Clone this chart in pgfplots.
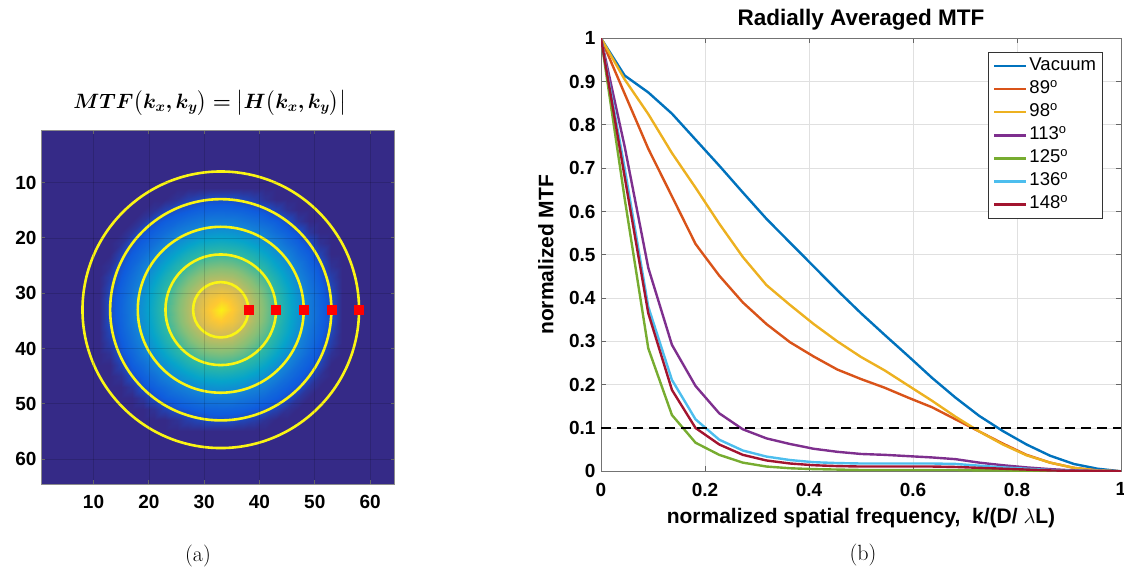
\documentclass[border=0pt]{standalone}
\usepackage{fontspec}
\usepackage{amsmath}
\usepackage{bm}
\usepackage{pgfplots}
\usepackage{pgfplotstable}
\pgfplotsset{compat=1.18}
\newfontfamily\arial{Liberation Sans}
\definecolor{mblue}{rgb}{0,0.447,0.741}
\definecolor{morange}{rgb}{0.85,0.325,0.098}
\definecolor{myellow}{rgb}{0.929,0.694,0.125}
\definecolor{mpurple}{rgb}{0.494,0.184,0.556}
\definecolor{mgreen}{rgb}{0.466,0.674,0.188}
\definecolor{mcyan}{rgb}{0.301,0.745,0.933}
\definecolor{mred}{rgb}{0.635,0.078,0.184}
\definecolor{pbg}{RGB}{53,42,135}
\definecolor{ring}{RGB}{250,245,20}
\newcommand\tickfont{\arial\bfseries\fontsize{19}{21}\selectfont}
\newcommand\labfont{\arial\bfseries\fontsize{21}{24}\selectfont}

\pgfplotstableread{
x vac d89 d98 d113 d125 d136 d148
0 1 1 1 1 1 1 1
0.0455 0.914 0.872 0.905 0.75 0.63 0.70 0.68
0.0909 0.875 0.745 0.825 0.47 0.284 0.38 0.365
0.1364 0.826 0.635 0.735 0.292 0.13 0.211 0.188
0.1818 0.766 0.525 0.655 0.197 0.066 0.12 0.1
0.2273 0.706 0.452 0.572 0.134 0.038 0.073 0.062
0.2727 0.644 0.39 0.495 0.097 0.02 0.048 0.038
0.3182 0.583 0.34 0.43 0.076 0.011 0.034 0.025
0.3636 0.528 0.298 0.384 0.063 0.007 0.026 0.018
0.4091 0.473 0.265 0.34 0.052 0.005 0.021 0.014
0.4545 0.418 0.235 0.30 0.045 0.004 0.019 0.012
0.5 0.365 0.213 0.264 0.040 0.003 0.018 0.011
0.5455 0.315 0.193 0.233 0.038 0.003 0.018 0.011
0.5909 0.266 0.17 0.198 0.035 0.003 0.018 0.011
0.6364 0.216 0.148 0.163 0.032 0.003 0.018 0.011
0.6818 0.17 0.12 0.126 0.028 0.003 0.017 0.010
0.7273 0.128 0.092 0.092 0.020 0.002 0.013 0.008
0.7727 0.093 0.064 0.062 0.014 0.002 0.009 0.006
0.8182 0.062 0.038 0.037 0.009 0.001 0.006 0.004
0.8636 0.036 0.02 0.02 0.005 0.001 0.003 0.002
0.9091 0.017 0.008 0.008 0.002 0 0.001 0.001
0.9545 0.006 0.002 0.002 0.001 0 0.0005 0
1 0 0 0 0 0 0 0
}\mtf

\pgfplotstableread{
x y c
11 11 0
13 11 0
15 11 0
17 11 0
19 11 0
21 11 0
23 11 0
25 11 0
27 11 0
29 11 0
31 11 0
33 11 0
35 11 0
37 11 0
39 11 0
41 11 0
43 11 0
45 11 0
47 11 0
49 11 0
51 11 0
53 11 0
55 11 0
11 13 0
13 13 0
15 13 0
17 13 0
19 13 0
21 13 0
23 13 0
25 13 .02
27 13 .05
29 13 .07
31 13 .09
33 13 .09
35 13 .09
37 13 .07
39 13 .05
41 13 .02
43 13 0
45 13 0
47 13 0
49 13 0
51 13 0
53 13 0
55 13 0
11 15 0
13 15 0
15 15 0
17 15 0
19 15 0
21 15 .02
23 15 .06
25 15 .10
27 15 .12
29 15 .14
31 15 .15
33 15 .155
35 15 .15
37 15 .14
39 15 .12
41 15 .10
43 15 .06
45 15 .02
47 15 0
49 15 0
51 15 0
53 15 0
55 15 0
11 17 0
13 17 0
15 17 0
17 17 0
19 17 .03
21 17 .09
23 17 .13
25 17 .16
27 17 .19
29 17 .21
31 17 .23
33 17 .23
35 17 .23
37 17 .21
39 17 .19
41 17 .16
43 17 .13
45 17 .09
47 17 .03
49 17 0
51 17 0
53 17 0
55 17 0
11 19 0
13 19 0
15 19 0
17 19 .03
19 19 .10
21 19 .14
23 19 .18
25 19 .23
27 19 .26
29 19 .29
31 19 .31
33 19 .32
35 19 .31
37 19 .29
39 19 .26
41 19 .23
43 19 .18
45 19 .14
47 19 .10
49 19 .03
51 19 0
53 19 0
55 19 0
11 21 0
13 21 0
15 21 .02
17 21 .09
19 21 .14
21 21 .19
23 21 .25
25 21 .30
27 21 .35
29 21 .39
31 21 .41
33 21 .42
35 21 .41
37 21 .39
39 21 .35
41 21 .30
43 21 .25
45 21 .19
47 21 .14
49 21 .09
51 21 .02
53 21 0
55 21 0
11 23 0
13 23 0
15 23 .06
17 23 .13
19 23 .18
21 23 .25
23 23 .31
25 23 .38
27 23 .44
29 23 .48
31 23 .51
33 23 .52
35 23 .51
37 23 .48
39 23 .44
41 23 .38
43 23 .31
45 23 .25
47 23 .18
49 23 .13
51 23 .06
53 23 0
55 23 0
11 25 0
13 25 .02
15 25 .10
17 25 .16
19 25 .23
21 25 .30
23 25 .38
25 25 .46
27 25 .52
29 25 .57
31 25 .60
33 25 .61
35 25 .60
37 25 .57
39 25 .52
41 25 .46
43 25 .38
45 25 .30
47 25 .23
49 25 .16
51 25 .10
53 25 .02
55 25 0
11 27 0
13 27 .05
15 27 .12
17 27 .19
19 27 .26
21 27 .35
23 27 .44
25 27 .52
27 27 .59
29 27 .64
31 27 .68
33 27 .69
35 27 .68
37 27 .64
39 27 .59
41 27 .52
43 27 .44
45 27 .35
47 27 .26
49 27 .19
51 27 .12
53 27 .05
55 27 0
11 29 0
13 29 .07
15 29 .14
17 29 .21
19 29 .29
21 29 .39
23 29 .48
25 29 .57
27 29 .64
29 29 .70
31 29 .76
33 29 .78
35 29 .76
37 29 .70
39 29 .64
41 29 .57
43 29 .48
45 29 .39
47 29 .29
49 29 .21
51 29 .14
53 29 .07
55 29 0
11 31 0
13 31 .09
15 31 .15
17 31 .23
19 31 .31
21 31 .41
23 31 .51
25 31 .60
27 31 .68
29 31 .76
31 31 .84
33 31 .88
35 31 .84
37 31 .76
39 31 .68
41 31 .60
43 31 .51
45 31 .41
47 31 .31
49 31 .23
51 31 .15
53 31 .09
55 31 0
11 33 0
13 33 .09
15 33 .155
17 33 .23
19 33 .32
21 33 .42
23 33 .52
25 33 .61
27 33 .69
29 33 .78
31 33 .88
33 33 .97
35 33 .88
37 33 .78
39 33 .69
41 33 .61
43 33 .52
45 33 .42
47 33 .32
49 33 .23
51 33 .155
53 33 .09
55 33 0
11 35 0
13 35 .09
15 35 .15
17 35 .23
19 35 .31
21 35 .41
23 35 .51
25 35 .60
27 35 .68
29 35 .76
31 35 .84
33 35 .88
35 35 .84
37 35 .76
39 35 .68
41 35 .60
43 35 .51
45 35 .41
47 35 .31
49 35 .23
51 35 .15
53 35 .09
55 35 0
11 37 0
13 37 .07
15 37 .14
17 37 .21
19 37 .29
21 37 .39
23 37 .48
25 37 .57
27 37 .64
29 37 .70
31 37 .76
33 37 .78
35 37 .76
37 37 .70
39 37 .64
41 37 .57
43 37 .48
45 37 .39
47 37 .29
49 37 .21
51 37 .14
53 37 .07
55 37 0
11 39 0
13 39 .05
15 39 .12
17 39 .19
19 39 .26
21 39 .35
23 39 .44
25 39 .52
27 39 .59
29 39 .64
31 39 .68
33 39 .69
35 39 .68
37 39 .64
39 39 .59
41 39 .52
43 39 .44
45 39 .35
47 39 .26
49 39 .19
51 39 .12
53 39 .05
55 39 0
11 41 0
13 41 .02
15 41 .10
17 41 .16
19 41 .23
21 41 .30
23 41 .38
25 41 .46
27 41 .52
29 41 .57
31 41 .60
33 41 .61
35 41 .60
37 41 .57
39 41 .52
41 41 .46
43 41 .38
45 41 .30
47 41 .23
49 41 .16
51 41 .10
53 41 .02
55 41 0
11 43 0
13 43 0
15 43 .06
17 43 .13
19 43 .18
21 43 .25
23 43 .31
25 43 .38
27 43 .44
29 43 .48
31 43 .51
33 43 .52
35 43 .51
37 43 .48
39 43 .44
41 43 .38
43 43 .31
45 43 .25
47 43 .18
49 43 .13
51 43 .06
53 43 0
55 43 0
11 45 0
13 45 0
15 45 .02
17 45 .09
19 45 .14
21 45 .19
23 45 .25
25 45 .30
27 45 .35
29 45 .39
31 45 .41
33 45 .42
35 45 .41
37 45 .39
39 45 .35
41 45 .30
43 45 .25
45 45 .19
47 45 .14
49 45 .09
51 45 .02
53 45 0
55 45 0
11 47 0
13 47 0
15 47 0
17 47 .03
19 47 .10
21 47 .14
23 47 .18
25 47 .23
27 47 .26
29 47 .29
31 47 .31
33 47 .32
35 47 .31
37 47 .29
39 47 .26
41 47 .23
43 47 .18
45 47 .14
47 47 .10
49 47 .03
51 47 0
53 47 0
55 47 0
11 49 0
13 49 0
15 49 0
17 49 0
19 49 .03
21 49 .09
23 49 .13
25 49 .16
27 49 .19
29 49 .21
31 49 .23
33 49 .23
35 49 .23
37 49 .21
39 49 .19
41 49 .16
43 49 .13
45 49 .09
47 49 .03
49 49 0
51 49 0
53 49 0
55 49 0
11 51 0
13 51 0
15 51 0
17 51 0
19 51 0
21 51 .02
23 51 .06
25 51 .10
27 51 .12
29 51 .14
31 51 .15
33 51 .155
35 51 .15
37 51 .14
39 51 .12
41 51 .10
43 51 .06
45 51 .02
47 51 0
49 51 0
51 51 0
53 51 0
55 51 0
11 53 0
13 53 0
15 53 0
17 53 0
19 53 0
21 53 0
23 53 0
25 53 .02
27 53 .05
29 53 .07
31 53 .09
33 53 .09
35 53 .09
37 53 .07
39 53 .05
41 53 .02
43 53 0
45 53 0
47 53 0
49 53 0
51 53 0
53 53 0
55 53 0
11 55 0
13 55 0
15 55 0
17 55 0
19 55 0
21 55 0
23 55 0
25 55 0
27 55 0
29 55 0
31 55 0
33 55 0
35 55 0
37 55 0
39 55 0
41 55 0
43 55 0
45 55 0
47 55 0
49 55 0
51 55 0
53 55 0
55 55 0
}\blob

\begin{document}
\begin{tikzpicture}
\useasboundingbox (0,0) rectangle (1124pt,569pt);
% ---------------- left: MTF image ----------------
\begin{axis}[
  at={(41pt,85pt)}, anchor=south west,
  scale only axis, width=354pt, height=354pt,
  xmin=0.5, xmax=64.5, ymin=0.5, ymax=64.5,
  y dir=reverse,
  xtick={10,20,30,40,50,60}, ytick={10,20,30,40,50,60},
  xticklabels={10,20,30,40,50,60}, yticklabels={10,20,30,40,50,60},
  tick label style={font=\tickfont},
  xticklabel style={yshift=-8pt},
  yticklabel style={xshift=-1pt},
  tick align=inside, major tick length=4pt,
  tick style={black!60, line width=0.8pt},
  axis line style={black!45, line width=1pt},
  axis background/.style={fill=pbg},
  axis on top,
  grid=major, major grid style={black, opacity=0.14, line width=0.6pt},
  colormap={parula}{rgb255=(53,42,135) rgb255=(15,92,221) rgb255=(20,129,214) rgb255=(6,164,202) rgb255=(46,183,164) rgb255=(135,191,119) rgb255=(209,187,89) rgb255=(254,200,50) rgb255=(249,251,14)},
  point meta min=0, point meta max=1,
  title={$\bm{MTF\bigl(k_x,k_y\bigr)=\bigl|H\bigl(k_x,k_y\bigr)\bigr|}$},
  title style={at={(axis description cs:0.477,1.082)}, anchor=center, yshift=-8pt, font=\fontsize{19.5}{23}\selectfont},
]
\addplot[surf, shader=interp, mesh/cols=23, point meta=explicit] table[x=x, y=y, meta=c]{\blob};
\draw[ring, line width=2.6pt] (axis cs:33,33) circle[radius=5];
\draw[ring, line width=2.6pt] (axis cs:33,33) circle[radius=10];
\draw[ring, line width=2.6pt] (axis cs:33,33) circle[radius=15];
\draw[ring, line width=2.6pt] (axis cs:33,33) circle[radius=20];
\draw[ring, line width=2.6pt] (axis cs:33,33) circle[radius=25];
\addplot[only marks, mark=square*, mark size=4.5pt, color=red] coordinates {(38,33) (43,33) (48,33) (53,33) (58,33)};
\end{axis}
% ---------------- right: radially averaged MTF ----------------
\begin{axis}[
  at={(601pt,97.7pt)}, anchor=south west,
  scale only axis, width=520pt, height=433pt,
  xmin=0, xmax=1, ymin=0, ymax=1,
  xtick={0,0.2,0.4,0.6,0.8,1}, ytick={0,0.1,0.2,0.3,0.4,0.5,0.6,0.7,0.8,0.9,1},
  xticklabels={0,0.2,0.4,0.6,0.8,1},
  yticklabels={0,0.1,0.2,0.3,0.4,0.5,0.6,0.7,0.8,0.9,1},
  tick label style={font=\tickfont},
  xticklabel style={yshift=-8pt},
  yticklabel style={xshift=-2pt},
  tick align=inside, major tick length=5pt,
  tick style={black!60, line width=0.8pt},
  axis line style={black!55, line width=1pt},
  grid=major, major grid style={black!12, line width=0.8pt},
  title={Radially Averaged MTF},
  title style={at={(axis description cs:0.5,1.049)}, anchor=center, yshift=-9pt, font=\arial\bfseries\fontsize{22.5}{26}\selectfont},
  xlabel={normalized spatial frequency,~ k/(D/ $\lambda$L)},
  xlabel style={at={(axis description cs:0.5,-0.108)}, anchor=center, font=\labfont},
  ylabel={normalized MTF},
  ylabel style={at={(axis description cs:-0.106,0.5)}, anchor=center, font=\labfont},
  every axis plot/.append style={line width=2.4pt},
  legend cell align=left,
  legend style={at={(axis description cs:0.744,0.968)}, anchor=north west,
    draw=black!80, line width=0.8pt, fill=white,
    font=\arial\fontsize{18.5}{20}\selectfont,
    inner xsep=5pt, inner ysep=2pt, row sep=0pt,
    nodes={inner sep=1.8pt, text height=14pt, text depth=5.5pt}},
  legend image code/.code={\draw[#1, line width=2.4pt] (0pt,0pt) -- (32pt,0pt);},
]
\addplot[mblue] table[x=x, y=vac]{\mtf};
\addplot[morange] table[x=x, y=d89]{\mtf};
\addplot[myellow] table[x=x, y=d98]{\mtf};
\addplot[mpurple] table[x=x, y=d113]{\mtf};
\addplot[mgreen] table[x=x, y=d125]{\mtf};
\addplot[mcyan] table[x=x, y=d136]{\mtf};
\addplot[mred] table[x=x, y=d148]{\mtf};
\addplot[black, line width=2.4pt, dash pattern=on 10pt off 6pt, forget plot] coordinates {(0,0.1) (1,0.1)};
\legend{Vacuum, 89\textsuperscript{o}, 98\textsuperscript{o}, 113\textsuperscript{o}, 125\textsuperscript{o}, 136\textsuperscript{o}, 148\textsuperscript{o}}
\end{axis}
\node[font=\fontsize{22}{26}\selectfont] at (198pt,13pt) {(a)};
\node[font=\fontsize{22}{26}\selectfont] at (863pt,14pt) {(b)};
\end{tikzpicture}
\end{document}
